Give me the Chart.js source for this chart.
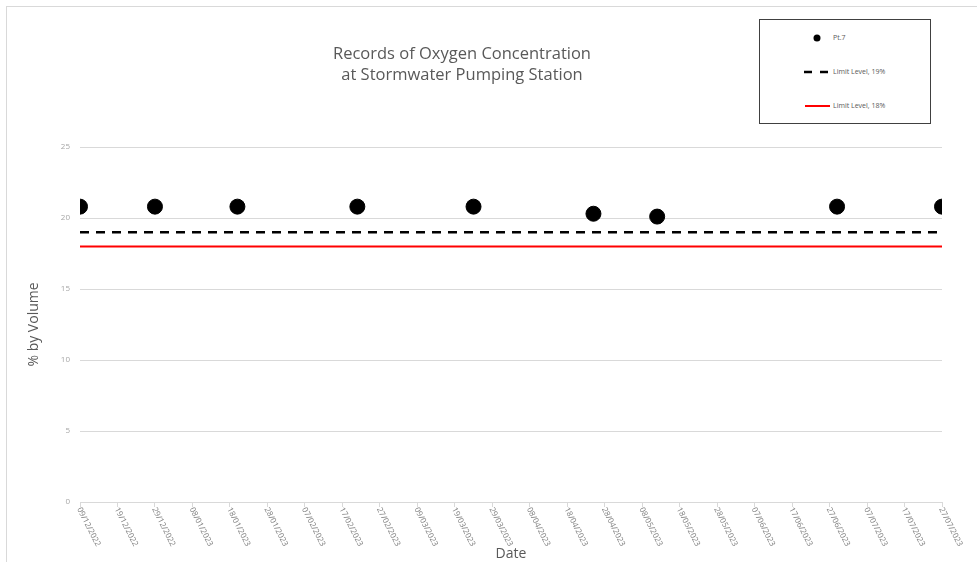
<!DOCTYPE html>
<html>
<head>
<meta charset="utf-8">
<script src="https://cdn.jsdelivr.net/npm/chart.js@4.4.0/dist/chart.umd.min.js"></script>
<style>
    body { margin: 0; background: #fff; font-family: "Open Sans", "Noto Sans", sans-serif; }
    #wrap { position: relative; width: 977px; height: 562px; overflow: hidden; }
    #frame { position: absolute; left: 6px; top: 6px; width: 990px; height: 570px; border: 1px solid #d9d9d9; }
    #chartTitle { position: absolute; left: 262px; top: 42px; width: 400px; text-align: center;
        color: #595959; font-size: 16.5px; line-height: 21px; }
    #legendBox { position: absolute; left: 759px; top: 19px; width: 170px; height: 103px;
        border: 1px solid #404040; background: #fff; }
    .lg-item { position: absolute; left: 0; height: 12px; width: 170px; }
    .lg-text { position: absolute; left: 73px; top: 0; font-size: 7px; line-height: 12px; color: #595959; white-space: nowrap; }
    canvas { position: absolute; left: 0; top: 0; }
</style>
</head>
<body>
<div id="wrap">
    <div id="frame"></div>
    <canvas id="oxygenChart" width="977" height="562"></canvas>
    <div id="chartTitle">Records of Oxygen Concentration<br>at Stormwater Pumping Station</div>
    <div id="legendBox">
        <div class="lg-item" style="top:12px">
            <svg width="70" height="12" style="position:absolute;left:0;top:0"><circle cx="57" cy="6" r="3.5" fill="#000"/></svg>
            <span class="lg-text">Pt.7</span>
        </div>
        <div class="lg-item" style="top:46px">
            <svg width="70" height="12" style="position:absolute;left:0;top:0"><line x1="44" y1="6" x2="70" y2="6" stroke="#000" stroke-width="2.5" stroke-dasharray="8,8"/></svg>
            <span class="lg-text">Limit Level, 19%</span>
        </div>
        <div class="lg-item" style="top:80px">
            <svg width="70" height="12" style="position:absolute;left:0;top:0"><line x1="45" y1="6" x2="70" y2="6" stroke="#ff0000" stroke-width="2"/></svg>
            <span class="lg-text">Limit Level, 18%</span>
        </div>
    </div>
</div>
<script>
// Oxygen readings at Pt.7
const sampleDates = ['09/12/2022', '29/12/2022', '20/01/2023', '21/02/2023', '24/03/2023',
    '25/04/2023', '12/05/2023', '29/06/2023', '27/07/2023'];
const pt7Values = [20.8, 20.8, 20.8, 20.8, 20.8, 20.3, 20.1, 20.8, 20.8];

// Limit lines span the whole date range
const limitDates = ['09/12/2022', '27/07/2023'];
const limit19 = [19, 19];
const limit18 = [18, 18];

const xTickLabels = ['09/12/2022', '19/12/2022', '29/12/2022', '08/01/2023', '18/01/2023', '28/01/2023',
    '07/02/2023', '17/02/2023', '27/02/2023', '09/03/2023', '19/03/2023', '29/03/2023', '08/04/2023',
    '18/04/2023', '28/04/2023', '08/05/2023', '18/05/2023', '28/05/2023', '07/06/2023', '17/06/2023',
    '27/06/2023', '07/07/2023', '17/07/2023', '27/07/2023'];
const yTicks = [0, 5, 10, 15, 20, 25];

const startDate = parseDate(xTickLabels[0]);

function parseDate(str) {
    const [d, m, y] = str.split('/').map(Number);
    return Date.UTC(y, m - 1, d);
}

function dayOffset(str) {
    return Math.round((parseDate(str) - startDate) / 86400000);
}

function toPoints(dates, values) {
    return dates.map((d, i) => ({ x: dayOffset(d), y: values[i] }));
}

// Rotated date labels hanging below the x axis
const dateLabelPlugin = {
    id: 'dateLabels',
    afterDraw(chart) {
        const ctx = chart.ctx;
        const xScale = chart.scales.x;
        ctx.save();
        ctx.fillStyle = '#7f7f7f';
        ctx.font = '8px "Open Sans", sans-serif';
        ctx.textAlign = 'left';
        ctx.textBaseline = 'middle';
        xTickLabels.forEach(label => {
            const px = xScale.getPixelForValue(dayOffset(label));
            ctx.save();
            ctx.translate(px - 1, xScale.top + 6);
            ctx.rotate(63 * Math.PI / 180);
            ctx.fillText(label, 0, 0);
            ctx.restore();
        });
        ctx.restore();
    }
};

const ctx = document.getElementById('oxygenChart');
const oxygenChart = new Chart(ctx, {
    type: 'scatter',
    data: {
        datasets: [
            {
                label: 'Pt.7',
                data: toPoints(sampleDates, pt7Values),
                backgroundColor: '#000',
                borderColor: '#000',
                pointRadius: 7.5,
                pointHoverRadius: 7.5,
                showLine: false
            },
            {
                label: 'Limit Level, 19%',
                data: toPoints(limitDates, limit19),
                borderColor: '#000',
                borderWidth: 2.5,
                borderDash: [9, 7],
                pointRadius: 0,
                showLine: true
            },
            {
                label: 'Limit Level, 18%',
                data: toPoints(limitDates, limit18),
                borderColor: '#ff0000',
                borderWidth: 2,
                pointRadius: 0,
                showLine: true
            }
        ]
    },
    options: {
        responsive: false,
        animation: false,
        layout: {
            padding: { top: 147, right: 35, left: 0, bottom: 0 }
        },
        plugins: {
            legend: { display: false },
            title: { display: false },
            tooltip: { enabled: false }
        },
        scales: {
            x: {
                type: 'linear',
                min: 0,
                max: dayOffset(xTickLabels[xTickLabels.length - 1]),
                afterBuildTicks: scale => {
                    scale.ticks = xTickLabels.map(l => ({ value: dayOffset(l) }));
                },
                afterFit: scale => { scale.height = 60; },
                ticks: { display: false },
                grid: { drawOnChartArea: false, drawTicks: true, tickLength: 5, color: '#d9d9d9' },
                border: { color: '#d9d9d9' },
                title: {
                    display: true,
                    text: 'Date',
                    color: '#595959',
                    font: { size: 14, family: '"Open Sans", sans-serif' },
                    padding: { top: 0, bottom: 0 }
                }
            },
            y: {
                min: 0,
                max: 25,
                afterBuildTicks: scale => {
                    scale.ticks = yTicks.map(v => ({ value: v }));
                },
                afterFit: scale => { scale.width = 80; },
                ticks: { color: '#a6a6a6', font: { size: 8, family: '"Open Sans", sans-serif' }, padding: 10 },
                grid: { color: '#d9d9d9', drawTicks: false },
                border: { display: false },
                title: {
                    display: true,
                    text: '% by Volume',
                    color: '#595959',
                    font: { size: 14, family: '"Open Sans", sans-serif' },
                    padding: { top: 26, bottom: 0 }
                }
            }
        }
    },
    plugins: [dateLabelPlugin]
});
</script>
</body>
</html>
